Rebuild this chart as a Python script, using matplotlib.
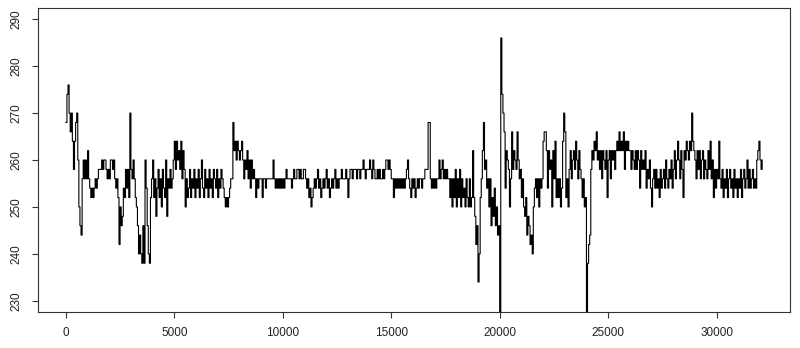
import numpy as np
import matplotlib
matplotlib.use('Agg')
import matplotlib.pyplot as plt

plt.rcParams['font.family'] = ['Liberation Sans', 'DejaVu Sans']

# valores, un valor cada 50 muestras (20 por fila = 1000 muestras)
tramo_0 = [268, 274, 276, 270, 266, 270, 264, 258, 264, 268, 270, 260, 250, 246, 244, 256, 260, 256, 260, 256,
           262, 256, 254, 252, 254, 252, 254, 256, 254, 256, 258, 258, 258, 260, 258, 260, 260, 258, 256, 258,
           256, 260, 260, 258, 260, 256, 254, 256, 252, 242, 250, 246, 248, 254, 252, 258, 254, 258, 252, 270,
           258, 256, 260, 256, 252, 250, 246, 240, 244, 240, 238, 246, 238, 260, 254, 246, 240, 238, 252, 256]
tramo_4000 = [260, 252, 256, 248, 254, 258, 252, 256, 250, 258, 254, 252, 260, 248, 256, 254, 258, 254, 256, 260,
              264, 258, 264, 260, 262, 258, 264, 256, 262, 258, 250, 256, 252, 254, 258, 252, 256, 254, 258, 252,
              256, 254, 258, 252, 256, 260, 254, 252, 258, 254, 256, 252, 258, 254, 256, 252, 258, 256, 254, 258,
              252, 256, 254, 258, 256, 254, 252, 250, 252, 250, 252, 254, 256, 256, 268, 262, 264, 260, 264, 262]
tramo_8000 = [260, 262, 264, 260, 256, 260, 258, 262, 256, 260, 254, 260, 256, 258, 256, 252, 256, 254, 256, 256,
              256, 252, 256, 256, 254, 256, 256, 256, 256, 256, 256, 260, 256, 254, 256, 254, 256, 254, 256, 254,
              256, 254, 256, 258, 256, 256, 256, 256, 254, 256, 258, 256, 256, 258, 258, 256, 258, 256, 256, 258,
              258, 256, 254, 256, 252, 254, 250, 252, 254, 256, 254, 256, 258, 254, 256, 252, 254, 256, 254, 256]
tramo_12000 = [258, 254, 256, 252, 254, 256, 254, 256, 258, 254, 256, 254, 256, 256, 258, 256, 256, 256, 258, 256,
               252, 256, 258, 258, 256, 258, 258, 258, 256, 258, 258, 256, 258, 258, 260, 258, 256, 258, 258, 258,
               260, 258, 256, 260, 258, 256, 256, 258, 256, 258, 256, 256, 258, 256, 258, 260, 260, 258, 260, 258,
               256, 256, 252, 256, 254, 256, 254, 256, 254, 256, 254, 256, 254, 256, 258, 260, 256, 254, 252, 256]
tramo_16000 = [254, 256, 252, 254, 256, 254, 256, 256, 254, 256, 256, 258, 258, 258, 268, 268, 256, 254, 256, 254,
               256, 254, 256, 256, 260, 256, 258, 260, 256, 258, 256, 258, 256, 256, 252, 256, 250, 256, 252, 258,
               250, 256, 252, 258, 250, 256, 252, 254, 250, 256, 252, 250, 256, 250, 252, 262, 252, 248, 242, 246,
               234, 240, 252, 256, 262, 268, 258, 260, 254, 256, 250, 256, 246, 252, 248, 254, 246, 250, 244, 246]
tramo_20000 = [210, 286, 274, 270, 266, 254, 262, 260, 258, 250, 256, 266, 258, 262, 260, 258, 266, 260, 256, 258,
               252, 256, 250, 248, 252, 244, 248, 246, 242, 244, 240, 250, 254, 256, 252, 256, 250, 256, 254, 256,
               264, 266, 266, 262, 254, 262, 258, 260, 250, 262, 256, 264, 252, 256, 252, 256, 250, 254, 264, 270,
               266, 252, 256, 250, 258, 262, 256, 260, 262, 258, 264, 260, 256, 262, 258, 256, 252, 256, 250, 252]
tramo_24000 = [200, 238, 242, 244, 258, 262, 260, 264, 262, 266, 260, 262, 258, 262, 256, 262, 260, 258, 262, 252,
               260, 262, 256, 262, 260, 262, 258, 262, 264, 262, 266, 262, 264, 262, 266, 258, 264, 262, 264, 262,
               262, 258, 262, 260, 258, 262, 258, 262, 260, 254, 262, 258, 260, 258, 262, 254, 258, 256, 260, 254,
               250, 256, 258, 254, 258, 254, 256, 252, 258, 254, 256, 258, 254, 260, 256, 254, 258, 256, 260, 254]
tramo_28000 = [258, 262, 256, 260, 264, 260, 256, 262, 258, 252, 262, 260, 264, 262, 260, 264, 262, 270, 264, 262,
               260, 256, 262, 258, 262, 256, 260, 262, 256, 260, 258, 256, 262, 258, 264, 256, 260, 252, 258, 254,
               258, 256, 264, 256, 254, 258, 252, 256, 254, 258, 252, 256, 258, 254, 256, 252, 258, 254, 256, 252,
               256, 254, 258, 252, 256, 258, 254, 256, 260, 254, 258, 254, 256, 258, 254, 256, 254, 260, 262, 264,
               260, 258, 260]

paso = 50
yticks = [230, 240, 250, 260, 270, 280, 290]
xticks = [0, 5000, 10000, 15000, 20000, 25000, 30000]

y = np.array(tramo_0 + tramo_4000 + tramo_8000 + tramo_12000 +
             tramo_16000 + tramo_20000 + tramo_24000 + tramo_28000)
x = np.arange(len(y)) * paso

fig = plt.figure(figsize=(8, 3.48), dpi=100)
ax = fig.add_axes([0.0475, 0.1034, 0.94, 0.8736])
ax.plot(x, y, color='black', linewidth=0.8, drawstyle='steps-post')

# limites como en R (4% de margen)
pad_x = 0.04 * (x[-1] - x[0])
ax.set_xlim(x[0] - pad_x, x[-1] + pad_x)
pad_y = 0.04 * (yticks[-1] - yticks[0])
ax.set_ylim(yticks[0] - pad_y, yticks[-1] + pad_y)

ax.set_xticks(xticks)
ax.set_yticks(yticks)
ax.set_yticklabels([str(v) for v in yticks], rotation=90, va='center')
ax.tick_params(axis='both', labelsize=8.5, length=4, width=0.8,
               color='#333333', labelcolor='#222222')
ax.tick_params(axis='x', pad=7)
ax.tick_params(axis='y', pad=7)
for s in ax.spines.values():
    s.set_linewidth(0.8)
    s.set_color('#333333')

fig.savefig('out.png', dpi=100)
